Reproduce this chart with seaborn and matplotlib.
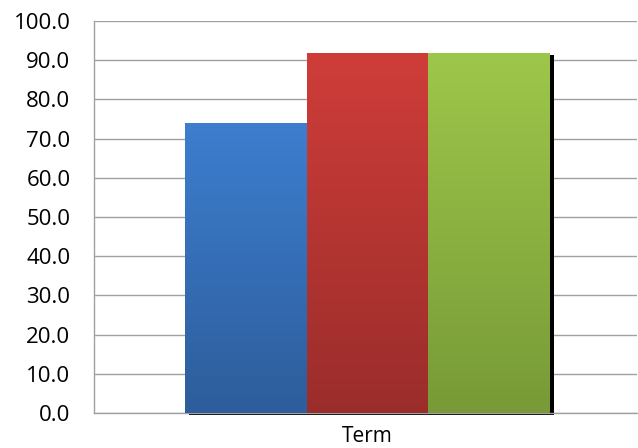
import numpy as np
import pandas as pd
import seaborn as sns
import matplotlib
matplotlib.use('Agg')
import matplotlib.pyplot as plt
from matplotlib.patches import Rectangle
from matplotlib.colors import LinearSegmentedColormap
import matplotlib.transforms as mtransforms

# --- Data ---
category = ["Term", "Term", "Term"]
series = ["A", "B", "C"]
values = [74.0, 91.8, 91.8]
top_colors = ["#3D7ECF", "#CF3D39", "#9DC74A"]
bottom_colors = ["#2D5D9B", "#9A2D2B", "#789A37"]

df = pd.DataFrame({"cat": category, "series": series, "value": values})

sns.set_theme(style="white")
plt.rcParams['font.family'] = ['Open Sans', 'DejaVu Sans']

fig = plt.figure(figsize=(6.38, 4.48), dpi=100)
ax = fig.add_axes([94 / 638, 1 - 413 / 448, 543 / 638, 392 / 448])

sns.barplot(data=df, x="cat", y="value", hue="series", palette=top_colors,
            width=0.672, legend=False, ax=ax, zorder=3)

ax.set_yticks(np.arange(0, 101, 10))
ax.set_yticklabels([f"{v:.1f}" for v in np.arange(0, 101, 10)])
ax.set_xlabel("")
ax.set_ylabel("")
ax.tick_params(axis="y", length=0, pad=17, labelsize=16, colors="black")
ax.tick_params(axis="x", length=0, pad=9, labelsize=15, colors="black")
ax.yaxis.grid(True, color="#A0A0A0", linewidth=1, zorder=0)
ax.set_axisbelow(True)
for side in ["top", "right"]:
    ax.spines[side].set_visible(False)
for side in ["left", "bottom"]:
    ax.spines[side].set_color("#A0A0A0")
    ax.spines[side].set_linewidth(1)

# --- gradient fill and shadow for each bar ---
shadow_tr = mtransforms.offset_copy(ax.transData, fig=fig, x=4, y=-2, units="dots")
grad = np.linspace(1, 0, 256).reshape(-1, 1)
for patch, c_top, c_bot in zip(ax.patches, top_colors, bottom_colors):
    x0, y0 = patch.get_x(), patch.get_y()
    w, h = patch.get_width(), patch.get_height()
    shadow = Rectangle((x0, y0), w, h, facecolor="black", edgecolor="none",
                       transform=shadow_tr, zorder=2, clip_on=False)
    ax.add_patch(shadow)
    cmap = LinearSegmentedColormap.from_list("g", [c_bot, c_top])
    im = ax.imshow(grad, extent=[x0, x0 + w, y0, y0 + h], aspect="auto",
                   cmap=cmap, vmin=0, vmax=1, zorder=4, origin="upper")
    im.set_clip_path(patch)
    patch.set_edgecolor("none")

ax.set_xlim(-0.5037, 0.4963)
ax.set_ylim(0, 100)

plt.savefig("out.png", dpi=100)
plt.close()
